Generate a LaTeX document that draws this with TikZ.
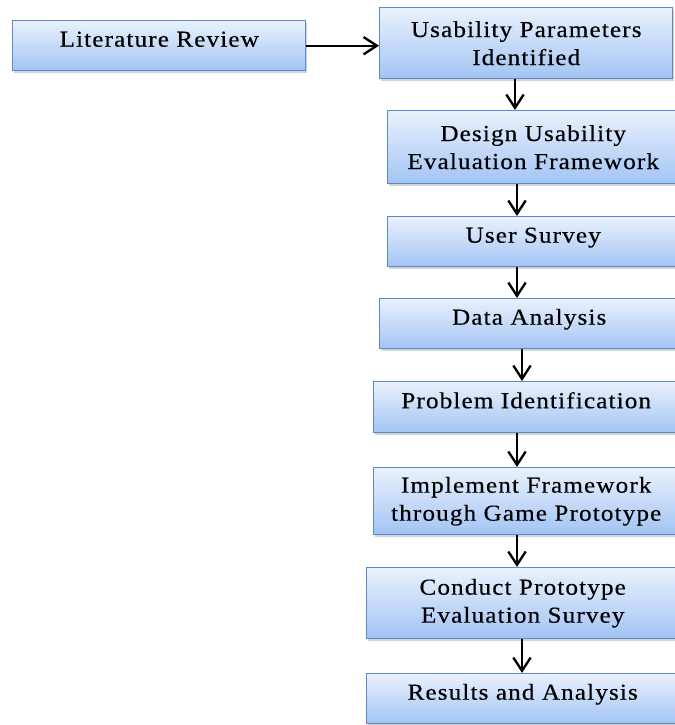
\documentclass[tikz,border=0pt]{standalone}
\usepackage{fontspec}
\setmainfont{Liberation Serif}[FakeStretch=1.1,LetterSpace=5,FakeBold=0.4]
\usetikzlibrary{arrows.meta,shadows}
\definecolor{boxline}{RGB}{92,138,200}
\definecolor{boxtop}{RGB}{234,241,253}
\definecolor{boxbot}{RGB}{162,196,244}
\tikzset {>={Straight Barb[length=0.4cm,width=0.52cm]},
  stepbox/.style={draw=boxline,line width=1.2pt,top color=boxtop,bottom color=boxbot,
    drop shadow={shadow xshift=0.05cm,shadow yshift=-0.07cm,opacity=0.35},
    anchor=north west,inner xsep=0pt,inner ysep=0pt,align=center,
    font=\fontsize{19.5}{23.9}\selectfont},
  onebox/.style={stepbox,minimum height=1.5cm,text height=0.78cm,text depth=0.72cm},
  twobox/.style={stepbox},
  arr/.style={->,line width=2pt}}

\begin{document}
\begin{tikzpicture}[x=0.03cm,y=-0.03cm]
\useasboundingbox (0,0) rectangle (675,725);

\node[onebox,minimum width=8.79cm] (lit) at (12,20) {Literature Review};
\node[twobox,minimum width=8.79cm,minimum height=2.13cm] (par) at (379,7) {Usability Parameters\\Identified};
\node[twobox,minimum width=8.73cm,minimum height=2.19cm] (des) at (387,110) {Design Usability\\Evaluation Framework};
\node[onebox,minimum width=8.73cm] (sur) at (387,216) {User Survey};
\node[onebox,minimum width=8.97cm] (ana) at (379,298) {Data Analysis};
\node[onebox,minimum width=9.15cm,minimum height=1.53cm] (pro) at (373,381) {Problem Identification};
\node[twobox,minimum width=9.15cm,minimum height=2.01cm] (imp) at (373,467) {Implement Framework\\through Game Prototype};
\node[twobox,minimum width=9.36cm,minimum height=2.13cm] (con) at (366,567) {Conduct Prototype\\Evaluation Survey};
\node[onebox,minimum width=9.36cm] (res) at (366,673) {Results and Analysis};

\draw[arr] (lit.east) -- (par.west |- lit.east);

% down the chain
\foreach \a/\b/\x in {par/des/515,des/sur/517,sur/ana/517,ana/pro/522,pro/imp/517,imp/con/517,con/res/522} {
  \path (\x,0) coordinate (ax);
  \draw[arr] (\a.south -| ax) -- (\b.north -| ax);
}
\end{tikzpicture}
\end{document}
